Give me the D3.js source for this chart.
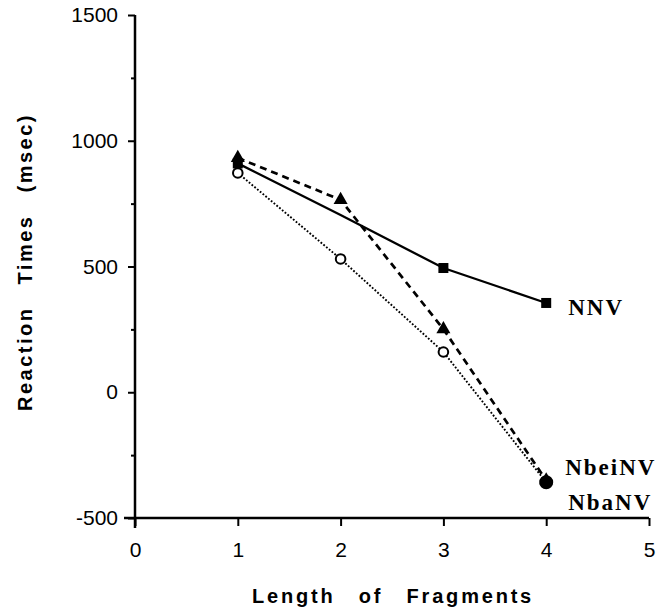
<!DOCTYPE html>
<html><head><meta charset="utf-8">
<script src="https://cdn.jsdelivr.net/npm/d3@7"></script>
<style>body{margin:0;background:#fff}svg{display:block}</style>
</head><body>
<svg id="c" width="662" height="614"></svg>
<script>
const lengths = [1, 2, 3, 4];
const nnv = [910, 705, 494, 355];
const nbeinv = [932, 765, 251, -350];
const nbanv = [872, 530, 160, -358];
const yTicks = [-500, 0, 500, 1000, 1500];
const yMinor = [-250, 250, 750, 1250];
const xTicks = [0, 1, 2, 3, 4, 5];
const seriesNames = ["NNV", "NbeiNV", "NbaNV"];

const svg = d3.select("#c");
const x = d3.scaleLinear().domain([0, 5]).range([135, 649]);
const y = d3.scaleLinear().domain([-500, 1500]).range([518, 15]);
const sans = "Liberation Sans, Arial, Helvetica, sans-serif";

// y axis
const yAxis = d3.axisLeft(y).tickValues(yTicks).tickSize(7).tickPadding(10).tickFormat(d => String(d));
const gy = svg.append("g").attr("transform", `translate(${x(0)},0)`).call(yAxis);
gy.select(".domain").attr("stroke-width", 2.5).attr("d", `M0,${y(1500)}V${y(-500)+10}`);
gy.selectAll(".tick line").attr("stroke-width", 2);
gy.selectAll(".tick text").attr("font-family", sans).attr("font-size", 21).attr("fill", "#000");
const gyMinor = svg.append("g").attr("transform", `translate(${x(0)},0)`)
  .call(d3.axisLeft(y).tickValues(yMinor).tickSize(4).tickFormat(""));
gyMinor.select(".domain").remove();
gyMinor.selectAll(".tick line").attr("stroke-width", 2);

// x axis
const xAxis = d3.axisBottom(x).tickValues(xTicks).tickSize(0).tickPadding(24).tickFormat(d => String(d));
const gx = svg.append("g").attr("transform", `translate(0,${y(-500)})`).call(xAxis);
gx.select(".domain").attr("stroke-width", 2.5).attr("d", `M${x(0)-11},0H${x(5)}`);
gx.selectAll(".tick line").attr("y2", 8).attr("stroke-width", 2);
gx.selectAll(".tick text").attr("font-family", sans).attr("font-size", 21).attr("fill", "#000");

// axis titles
svg.append("text").attr("transform", `translate(32,262) rotate(-90)`)
  .attr("text-anchor", "middle").attr("font-family", sans)
  .attr("font-weight", "bold").attr("font-size", 20).attr("letter-spacing", 2.5).attr("word-spacing", 14)
  .text("Reaction Times (msec)");
svg.append("text").attr("x", 393).attr("y", 603)
  .attr("text-anchor", "middle").attr("font-family", sans)
  .attr("font-weight", "bold").attr("font-size", 20).attr("letter-spacing", 2.8).attr("word-spacing", 15)
  .text("Length of Fragments");

const line = d3.line().x((d, i) => x(lengths[i])).y(d => y(d));

// lines
svg.append("path").datum(nnv).attr("d", line).attr("fill", "none").attr("stroke", "#000").attr("stroke-width", 2.3);
svg.append("path").datum(nbeinv).attr("d", line).attr("fill", "none").attr("stroke", "#000").attr("stroke-width", 2.7).attr("stroke-dasharray", "7,5");
svg.append("path").datum(nbanv).attr("d", line).attr("fill", "none").attr("stroke", "#000").attr("stroke-width", 1.9).attr("stroke-dasharray", "1.8,1.8");

// NNV squares (no marker visible at length 2 in the reference)
svg.selectAll(".sq").data(nnv.map((v, i) => ({v, i})).filter(d => d.i !== 1)).enter().append("rect")
  .attr("x", d => x(lengths[d.i]) - 5).attr("y", d => y(d.v) - 5).attr("width", 10).attr("height", 10).attr("fill", "#000");
// NbeiNV triangles
const tri = d3.symbol().type(d3.symbolTriangle).size(85);
svg.selectAll(".tr").data(nbeinv).enter().append("path")
  .attr("d", tri).attr("transform", (d, i) => `translate(${x(lengths[i])},${y(d)})`).attr("fill", "#000");
// NbaNV circles
svg.selectAll(".ci").data(nbanv).enter().append("circle")
  .attr("cx", (d, i) => x(lengths[i])).attr("cy", d => y(d)).attr("r", (d, i) => i === 3 ? 6 : 4.8)
  .attr("fill", (d, i) => i === 3 ? "#000" : "#fff").attr("stroke", "#000").attr("stroke-width", 2);

// series labels
const lab = svg.append("g").attr("font-family", "Liberation Serif, Times New Roman, serif")
  .attr("font-weight", "bold").attr("font-size", 23).attr("letter-spacing", 2);
lab.append("text").attr("x", x(4) + 22).attr("y", y(nnv[3]) + 12).text(seriesNames[0]);
lab.append("text").attr("x", x(4) + 19).attr("y", y(nbeinv[3]) - 5).text(seriesNames[1]);
lab.append("text").attr("x", x(4) + 22).attr("y", y(nbanv[3]) + 28).text(seriesNames[2]);
</script>
</body></html>
